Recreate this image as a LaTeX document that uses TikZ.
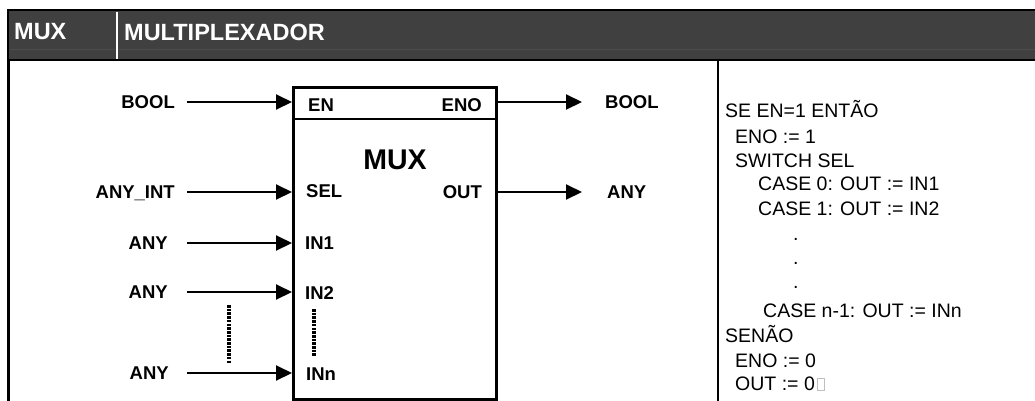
\documentclass[tikz,border=0pt]{standalone}
\usepackage{fontspec}
\setmainfont{Liberation Sans}
\usepackage{xcolor}
\usetikzlibrary{arrows.meta,positioning}
\definecolor{hdrgray}{HTML}{404040}
\definecolor{hdrline}{HTML}{4C4C4C}

\begin{document}
\begin{tikzpicture}[x=1pt,y=-1pt,
    hdrtxt/.style={anchor=west, inner sep=0, text=white, font=\fontsize{23.5}{25}\selectfont\bfseries},
    typelbl/.style={inner ysep=0, text depth=0pt, font=\fontsize{18.5}{20}\selectfont\bfseries},
    pinlbl/.style={inner sep=0, text depth=0pt, font=\fontsize{18.5}{20}\selectfont\bfseries},
    codeline/.style={anchor=base west, inner sep=0, font=\fontsize{19.5}{21}\selectfont},
    wire/.style={line width=2, -{Triangle[length=16pt,width=15pt]}},
    dotline/.style={line width=3.2, dash pattern=on 2.6pt off 1.1pt}]
\useasboundingbox (0,0) rectangle (1035,400);

% header band
\draw[line width=2.5, fill=hdrgray] (8,10) rectangle (1045,60);
\draw[hdrline, line width=1] (10,49) -- (115,49);
\draw[hdrline, line width=1] (119,49) -- (1035,49);
\draw[white, line width=2] (117,11.5) -- (117,58.5);
\node[hdrtxt] (hmux) at (14,32) {MUX};
\node[hdrtxt] (htitle) at (124,32) {MULTIPLEXADOR};

% frame
\draw[line width=2.5] (8.5,60) -- (8.5,402);
\draw[line width=2.5] (718,60) -- (718,402);

% block
\node[draw, line width=2.5, minimum width=203, minimum height=312, anchor=north west, inner sep=0] (mux) at (292,86) {};
\draw[line width=2.5] (mux.west |- 0,119) -- (mux.east |- 0,119);
\node[inner sep=0, font=\fontsize{28.5}{30}\selectfont\bfseries] (title) at (395,160) {MUX};

% inputs
\foreach \n/\y/\s/\t in {en/102/12/BOOL, sel/192/12/ANY\_INT, ina/243/19/ANY, inb/292/19/ANY, inn/373/18/ANY}{
    \node[typelbl, inner xsep=\s, anchor=east] (t\n) at (187,\y) {\t};
    \coordinate (p\n) at (mux.west |- 0,\y);
    \draw[wire] (t\n) -- (p\n);
}
\node[pinlbl, anchor=west] (ien) at (308,105) {EN};
\node[pinlbl, anchor=west] (isel) at (306,191) {SEL};
\node[pinlbl, anchor=west] (iina) at (305,243) {IN1};
\node[pinlbl, anchor=west] (iinb) at (305,293) {IN2};
\node[pinlbl, anchor=west] (iinn) at (306,374) {INn};
\draw[dotline] (229,305) -- (229,364);
\draw[dotline] (314,309) -- (314,357);

% outputs
\node[pinlbl, anchor=east] (ieno) at (482,105) {ENO};
\node[pinlbl, anchor=east] (iout) at (482,192) {OUT};
\foreach \n/\y/\s/\t in {eno/102/23/BOOL, out/192/25/ANY}{
    \coordinate (p\n) at (mux.east |- 0,\y);
    \node[typelbl, inner xsep=\s, anchor=west] (t\n) at (582,\y) {\t};
    \draw[wire] (p\n) -- (t\n);
}

% structured text
\foreach \i/\x/\y/\t in {1/725/117/SE EN=1 ENTÃO, 2/735/143/ENO := 1, 3/735/167/SWITCH SEL,
    4/758/190/CASE 0: OUT := IN1, 5/758/215/CASE 1: OUT := IN2,
    6/793/240/., 7/793/264/., 8/793/288/.,
    9/763/317/CASE n-1: OUT := INn, 10/725/342/SENÃO, 11/735/367/ENO := 0, 12/735/390/OUT := 0}
    \node[codeline] (code\i) at (\x,\y) {\t};
\draw[gray!50, line width=0.6] ([xshift=2]code12.base east) rectangle ++(7,-12);
\end{tikzpicture}
\end{document}
